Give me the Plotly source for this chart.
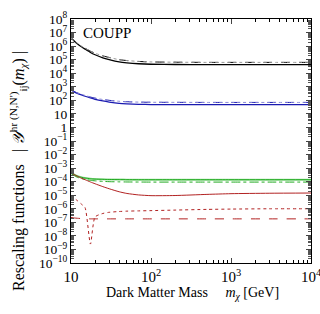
import numpy as np
import plotly.graph_objects as go

# ---- data ----
mass = [10, 11, 12, 13.5, 15, 17.5, 20, 25, 30, 40, 50, 70, 100, 200, 500, 1000, 3000, 10000]

black_solid = [4.0e6, 2.3e6, 1.5e6, 9.0e5, 6.0e5, 3.4e5, 2.3e5, 1.35e5, 1.0e5, 6.8e4, 5.8e4, 5.0e4, 4.6e4, 4.4e4, 4.3e4, 4.3e4, 4.3e4, 4.3e4]
black_dash = [4.0e6, 2.4e6, 1.6e6, 1.0e6, 7.0e5, 4.2e5, 3.0e5, 1.9e5, 1.45e5, 1.0e5, 8.6e4, 7.4e4, 6.8e4, 6.5e4, 6.3e4, 6.3e4, 6.3e4, 6.3e4]
blue_solid = [600, 420, 330, 250, 200, 150, 120, 90, 75, 60, 55, 51, 49, 48, 48, 48, 48, 48]
blue_dash = [600, 440, 350, 280, 230, 175, 145, 115, 100, 85, 79, 74, 72, 71, 70, 70, 70, 70]
green_solid = [5.0e-4, 3.3e-4, 2.6e-4, 2.1e-4, 1.85e-4, 1.65e-4, 1.55e-4, 1.48e-4, 1.45e-4, 1.42e-4, 1.41e-4, 1.4e-4, 1.4e-4, 1.4e-4, 1.4e-4, 1.4e-4, 1.4e-4, 1.4e-4]
green_dashdot = [4.0e-4, 2.8e-4, 2.1e-4, 1.7e-4, 1.45e-4, 1.25e-4, 1.15e-4, 1.05e-4, 1.0e-4, 9.7e-5, 9.5e-5, 9.4e-5, 9.3e-5, 9.3e-5, 9.3e-5, 9.3e-5, 9.3e-5, 9.3e-5]
red_solid = [4.5e-4, 3.3e-4, 2.5e-4, 1.8e-4, 1.4e-4, 9.5e-5, 7.0e-5, 4.3e-5, 3.0e-5, 1.8e-5, 1.35e-5, 1.05e-5, 9.3e-6, 9.5e-6, 1.15e-5, 1.3e-5, 1.4e-5, 1.45e-5]
red_dot = [9.0e-6, 6.0e-6, 4.0e-6, 2.2e-6, 1.2e-6, 2.5e-9, 2.5e-7, 4.5e-7, 5.5e-7, 6.3e-7, 6.7e-7, 7.0e-7, 7.3e-7, 8.0e-7, 9.0e-7, 9.5e-7, 1.0e-6, 1.0e-6]
red_dash = [2.3e-7, 2.1e-7, 2.0e-7, 1.9e-7, 1.85e-7, 1.8e-7, 1.8e-7, 1.8e-7, 1.8e-7, 1.8e-7, 1.8e-7, 1.8e-7, 1.8e-7, 1.8e-7, 1.8e-7, 1.8e-7, 1.8e-7, 1.8e-7]

y_major = [10.0**k for k in range(-10, 9)]
y_labels = []
for k in range(-10, 9):
    if k == 0:
        y_labels.append("1")
    elif k == 1:
        y_labels.append("10")
    else:
        y_labels.append("10<sup>%d</sup>" % k if k > 0 else "10<sup>\u2212%d</sup>" % (-k))
x_major = [10, 100, 1000, 10000]
x_labels = ["10", "10<sup>2</sup>", "10<sup>3</sup>", "10<sup>4</sup>"]

y_minor = [m * 10.0**k for k in range(-10, 8) for m in range(2, 10)]
x_minor = [m * 10.0**k for k in range(1, 4) for m in range(2, 10)]

series = [
    (black_solid, "black", "solid", 1.3),
    (black_dash, "black", "dash", 1.0),
    (black_dash, "#999999", "dot", 1.0),
    (blue_solid, "#1a1ab0", "solid", 1.3),
    (blue_dash, "#1a1ab0", "dash", 1.0),
    (blue_dash, "#8a8ad8", "dot", 1.0),
    (green_solid, "#99dd99", "solid", 2.0),
    (green_solid, "#22aa22", "solid", 1.0),
    (green_dashdot, "#22aa22", "dashdot", 1.0),
    (red_solid, "#b22222", "solid", 1.0),
    (red_dot, "#b22222", "dot", 1.0),
    (red_dash, "#b22222", "dash", 1.0),
]

fig = go.Figure()
for ys, col, dash, w in series:
    fig.add_trace(go.Scatter(x=mass, y=ys, mode="lines", line=dict(color=col, dash=dash, width=w, shape="spline", smoothing=0.6), showlegend=False))

W, H = 320, 314
l, r, t, b = 71, 9, 19, 51
pw, ph = W - l - r, H - t - b

font = dict(family="Liberation Serif, Times New Roman, serif", size=14, color="black")
fig.update_layout(
    width=W, height=H,
    margin=dict(l=l, r=r, t=t, b=b),
    paper_bgcolor="white", plot_bgcolor="white",
    font=font,
    xaxis=dict(type="log", range=[1, 4], tickmode="array", tickvals=x_major, ticktext=x_labels,
               ticks="inside", ticklen=5, showline=True, linecolor="black", linewidth=1, mirror="ticks",
               showgrid=False, zeroline=False, automargin=False, tickfont=dict(size=15),
               ticklabeloverflow="allow",
               minor=dict(tickmode="array", tickvals=x_minor, ticks="inside", ticklen=3, tickcolor="black")),
    yaxis=dict(type="log", range=[-10, 8], tickmode="array", tickvals=y_major, ticktext=y_labels,
               ticks="inside", ticklen=5, showline=True, linecolor="black", linewidth=1, mirror="ticks",
               showgrid=False, zeroline=False, automargin=False, tickfont=dict(size=13.5),
               ticklabeloverflow="allow",
               minor=dict(tickmode="array", tickvals=y_minor, ticks="inside", ticklen=3, tickcolor="#555555")),
    annotations=[
        dict(text="COUPP", x=0.04, y=0.985, xref="paper", yref="paper", xanchor="left", yanchor="top",
             showarrow=False, font=dict(size=15)),
        dict(text="Dark Matter Mass\u2003 <i>m<sub>\u03c7</sub></i> [GeV]",
             x=(192 - l) / pw, y=(H - b - 293) / ph, xref="paper", yref="paper",
             xanchor="center", yanchor="middle", showarrow=False, font=dict(size=14)),
        dict(text="Rescaling functions\u2002 | <i>\U0001d4b4</i><sup>hr (N,N')</sup><sub>ij</sub>(<i>m<sub>\u03c7</sub></i>) |",
             x=(18 - l) / pw, y=(H - b - 171) / ph, xref="paper", yref="paper",
             xanchor="center", yanchor="middle", textangle=-90, showarrow=False, font=dict(size=16)),
    ],
)
fig.write_html("out.html", config={"displayModeBar": False},
               post_script="document.body.style.margin='0';document.body.style.padding='0';")
